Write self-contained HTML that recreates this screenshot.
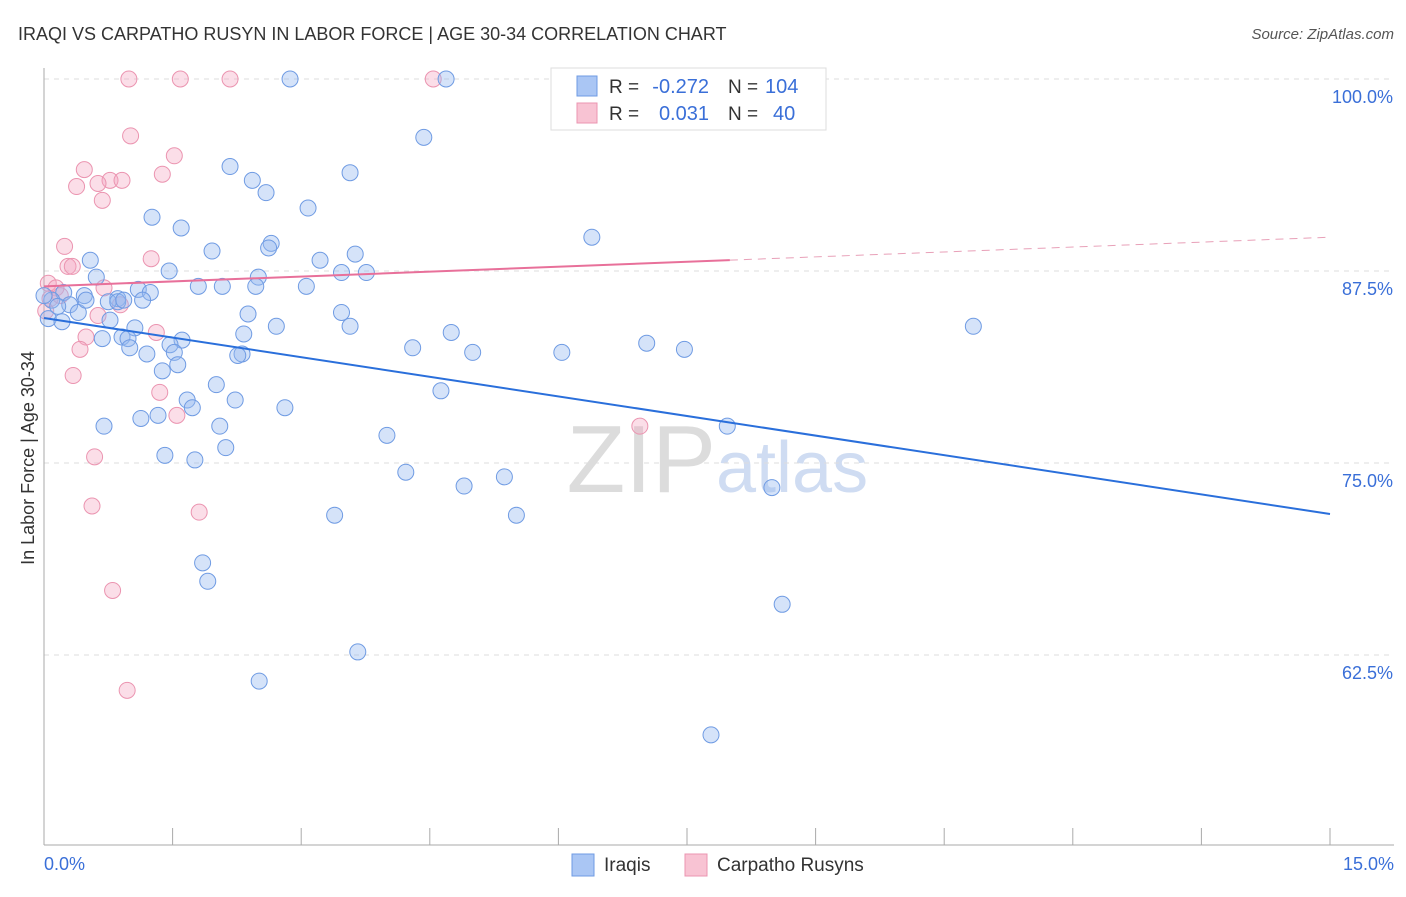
<!DOCTYPE html>
<html><head><meta charset="utf-8"><style>
body{margin:0;background:#fff;font-family:"Liberation Sans",sans-serif;}
svg text{font-family:"Liberation Sans",sans-serif;}
</style></head><body>
<svg id="chart" width="1406" height="892">
<text x="18" y="40" font-size="18" fill="#333">IRAQI VS CARPATHO RUSYN IN LABOR FORCE | AGE 30-34 CORRELATION CHART</text>
<text x="1394" y="39" font-size="15" fill="#555" font-style="italic" text-anchor="end">Source: ZipAtlas.com</text>
<text x="716" y="492" font-size="96" fill="#dcdcdc" text-anchor="end" font-family="Liberation Serif">ZIP</text>
<text x="716" y="492" font-size="72" fill="#cfdcf2">atlas</text>
<g id="grid"></g><g id="axes"></g><g id="marks"></g>
<text transform="translate(34,458) rotate(-90)" font-size="18" fill="#333" text-anchor="middle">In Labor Force | Age 30-34</text>
<text x="44" y="870" font-size="18" fill="#3a6fd8">0.0%</text>
<text x="1394" y="870" font-size="18" fill="#3a6fd8" text-anchor="end">15.0%</text>
<g>
<rect x="551" y="68" width="275" height="62" fill="#fff" stroke="#ddd"/>
<rect x="577" y="76" width="20" height="20" fill="#aac6f4" stroke="#6f9be3"/>
<rect x="577" y="103" width="20" height="20" fill="#f8c3d3" stroke="#eb94b0"/>
<text x="609" y="93" font-size="19" fill="#333">R =</text>
<text x="709" y="93" font-size="20" fill="#3a6fd8" text-anchor="end">-0.272</text>
<text x="728" y="93" font-size="19" fill="#333">N =</text>
<text x="765" y="93" font-size="20" fill="#3a6fd8">104</text>
<text x="609" y="120" font-size="19" fill="#333">R =</text>
<text x="709" y="120" font-size="20" fill="#3a6fd8" text-anchor="end">0.031</text>
<text x="728" y="120" font-size="19" fill="#333">N =</text>
<text x="773" y="120" font-size="20" fill="#3a6fd8">40</text>
</g>
<g>
<rect x="572" y="854" width="22" height="22" fill="#aac6f4" stroke="#6f9be3"/>
<text x="604" y="871" font-size="19" fill="#333">Iraqis</text>
<rect x="685" y="854" width="22" height="22" fill="#f8c3d3" stroke="#eb94b0"/>
<text x="717" y="871" font-size="19" fill="#333">Carpatho Rusyns</text>
</g>
</svg>
<script>
const yTicks=[100,87.5,75,62.5];
const xTickVals=[0,1.5,3,4.5,6,7.5,9,10.5,12,13.5,15];
const blueX=[2.87,4.69,4.43,2.17,3.57,2.43,2.59,3.08,1.26,1.60,6.39,2.65,1.96,2.62,3.63,3.22,0.54,1.46,2.50,3.47,3.76,0.61,1.80,2.08,3.06,2.47,1.10,1.24,0.23,0.47,0.86,1.15,0.75,0.30,0.09,0.05,0.21,0.40,0.77,2.38,3.47,1.06,2.71,3.57,2.33,4.75,10.84,0.68,0.91,0.98,1.61,1.47,7.03,1.00,4.30,7.47,1.20,1.52,2.31,2.26,5.00,6.04,1.56,1.38,2.01,4.63,2.23,1.67,1.73,2.81,1.13,1.33,0.70,2.05,7.97,4.00,2.12,1.41,1.76,4.22,5.37,4.90,8.49,3.39,5.51,1.85,1.91,8.61,3.66,2.51,7.78,0.0,0.16,0.86,0.49,0.93];
const blueY=[100,100,96.2,94.3,93.9,93.4,92.6,91.6,91.0,90.3,89.7,89.3,88.8,89.0,88.6,88.2,88.2,87.5,87.1,87.4,87.4,87.1,86.5,86.5,86.5,86.5,86.3,86.1,86.1,85.9,85.7,85.6,85.5,85.3,85.6,84.4,84.2,84.8,84.3,84.7,84.8,83.8,83.9,83.9,83.4,83.5,83.9,83.1,83.2,83.1,83.0,82.7,82.8,82.5,82.5,82.4,82.1,82.2,82.1,82.0,82.2,82.2,81.4,81.0,80.1,79.7,79.1,79.1,78.6,78.6,77.9,78.1,77.4,77.4,77.4,76.8,76.0,75.5,75.2,74.4,74.1,73.5,73.4,71.6,71.6,68.5,67.3,65.8,62.7,60.8,57.3,85.9,85.2,85.5,85.6,85.6];
const pinkX=[0.99,1.59,2.17,4.54,1.01,1.52,0.47,1.38,0.77,0.91,0.63,0.38,0.68,0.24,1.25,0.28,0.33,0.05,0.14,0.70,0.07,0.89,0.63,1.31,0.49,0.42,0.34,1.35,1.55,6.95,0.59,0.56,1.81,0.80,0.97,0.19,0.02];
const pinkY=[100,100,100,100,96.3,95.0,94.1,93.8,93.4,93.4,93.2,93.0,92.1,89.1,88.3,87.8,87.8,86.7,86.4,86.4,85.7,85.3,84.6,83.5,83.2,82.4,80.7,79.6,78.1,77.4,75.4,72.2,71.8,66.7,60.2,85.9,84.9];
const blueFit=[84.44,71.68];
const pinkFit=[86.5,89.7];
const pinkSolidEnd=8.0;
const X=v=>44+v/15*1286, Y=v=>79+(100-v)/12.5*192;
const NS='http://www.w3.org/2000/svg';
function mk(p,t,a){const e=document.createElementNS(NS,t);for(const k in a)e.setAttribute(k,a[k]);p.appendChild(e);return e;}
const grid=document.getElementById('grid'),axes=document.getElementById('axes'),marks=document.getElementById('marks');
yTicks.forEach(v=>{
 const l=mk(grid,'line',{x1:44,x2:1394,y1:Y(v),y2:Y(v),stroke:'#ddd','stroke-dasharray':'5,5'});
 
 
 const t=mk(grid,'text',{x:1393,y:Y(v)+24,'font-size':18,fill:'#3a6fd8','text-anchor':'end'});t.textContent=v.toFixed(1)+'%';
 
 
});
mk(axes,'line',{x1:44,x2:44,y1:68,y2:845,stroke:'#aaa'});
mk(axes,'line',{x1:44,x2:1394,y1:845,y2:845,stroke:'#aaa'});
xTickVals.forEach(v=>{const t=mk(axes,'line',{x1:X(v),x2:X(v),y1:828,y2:845,stroke:'#aaa'});
 
 });
pinkX.forEach((x,i)=>{const c=mk(marks,'circle',{cx:X(x),cy:Y(pinkY[i]),r:8,fill:'rgba(244,160,188,0.35)',stroke:'#eb94b0','stroke-width':1});
 
 });
blueX.forEach((x,i)=>{const c=mk(marks,'circle',{cx:X(x),cy:Y(blueY[i]),r:8,fill:'rgba(150,185,240,0.4)',stroke:'#6f9be3','stroke-width':1});
 
 });
const bl=mk(marks,'line',{x1:X(0),y1:Y(blueFit[0]),x2:X(15),y2:Y(blueFit[1]),stroke:'#2a6fdb','stroke-width':2});


const pe=pinkFit[0]+(pinkFit[1]-pinkFit[0])*pinkSolidEnd/15;
const pl=mk(marks,'line',{x1:X(0),y1:Y(pinkFit[0]),x2:X(pinkSolidEnd),y2:Y(pe),stroke:'#e8709a','stroke-width':2});


const pd=mk(marks,'line',{x1:X(pinkSolidEnd),y1:Y(pe),x2:X(15),y2:Y(pinkFit[1]),stroke:'#e8a0b8','stroke-width':1,'stroke-dasharray':'8,6'});


</script>
</body></html>
